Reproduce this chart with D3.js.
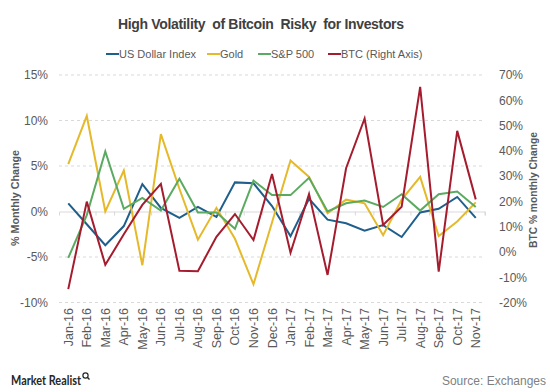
<!DOCTYPE html>
<html>
<head>
<meta charset="utf-8">
<script src="https://cdn.jsdelivr.net/npm/d3@7"></script>
<style>
  body { margin: 0; background: #fff; }
  svg { display: block; font-family: "Liberation Sans", Arial, sans-serif; }
</style>
</head>
<body>
<svg id="chart" width="550" height="392"></svg>
<script>
const months = ["Jan-16","Feb-16","Mar-16","Apr-16","May-16","Jun-16","Jul-16","Aug-16","Sep-16","Oct-16","Nov-16","Dec-16",
                "Jan-17","Feb-17","Mar-17","Apr-17","May-17","Jun-17","Jul-17","Aug-17","Sep-17","Oct-17","Nov-17"];
const usdIndex = [0.9, -1.4, -3.7, -1.6, 3.0, 0.4, -0.7, 0.5, -0.6, 3.2, 3.1, 0.6, -2.7, 1.4, -0.9, -1.3, -2.1, -1.5, -2.8, -0.1, 0.3, 1.6, -0.7];
const gold     = [5.2, 10.5, 0.0, 4.5, -5.9, 8.5, 2.5, -3.1, 0.4, -3.0, -8.0, -1.2, 5.6, 3.8, -0.2, 1.3, 0.9, -2.6, 1.3, 3.8, -2.7, -1.1, 1.0];
const sp500    = [-5.1, -0.4, 6.6, 0.3, 1.5, 0.1, 3.6, -0.1, -0.1, -1.9, 3.4, 1.8, 1.8, 3.7, 0.0, 0.9, 1.2, 0.5, 1.9, 0.1, 1.9, 2.2, 0.5];
const btc      = [-14.7, 19.9, -5.1, 7.0, 18.6, 26.9, -7.4, -7.6, 6.0, 15.0, 4.7, 30.8, -0.3, 22.9, -9.1, 33.1, 52.8, 10.7, 17.9, 65.3, -7.8, 47.9, 20.8];
const leftTicks  = [-10, -5, 0, 5, 10, 15];
const rightTicks = [-20, -10, 0, 10, 20, 30, 40, 50, 60, 70];

const series = [
  { name: "US Dollar Index", values: usdIndex, color: "#1f5f8b", axis: "left" },
  { name: "Gold", values: gold, color: "#e5b92a", axis: "left" },
  { name: "S&P 500", values: sp500, color: "#5aab61", axis: "left" },
  { name: "BTC (Right Axis)", values: btc, color: "#a51c2e", axis: "right" }
];

const svg = d3.select("#chart");
const plot = { left: 59, right: 485, top: 75, bottom: 302.5 };

const x = d3.scaleBand().domain(months).range([plot.left, plot.right]);
const yL = d3.scaleLinear().domain([-10, 15]).range([plot.bottom, plot.top]);
const yR = d3.scaleLinear().domain([-20, 70]).range([plot.bottom, plot.top]);

// gridlines
svg.append("g").selectAll("line").data(leftTicks.filter(d => d !== 0)).join("line")
  .attr("x1", plot.left).attr("x2", plot.right)
  .attr("y1", d => yL(d)).attr("y2", d => yL(d))
  .attr("stroke", "#d9d9d9").attr("stroke-width", 1).attr("stroke-dasharray", "3,3");

// zero axis line with ticks
const xAxis = d3.axisBottom(x).tickSize(4).tickFormat("");
const gx = svg.append("g").attr("transform", `translate(0,${yL(0)})`).call(xAxis);
gx.select(".domain").attr("stroke", "#d9d9d9");
gx.selectAll(".tick line").attr("stroke", "#d9d9d9").attr("transform", `translate(${x.bandwidth()/2},0)`);

// left axis labels
const gl = svg.append("g").attr("transform", `translate(${plot.left - 8},0)`)
  .call(d3.axisLeft(yL).tickValues(leftTicks).tickSize(0).tickFormat(d => d + "%"));
gl.select(".domain").remove();
gl.selectAll("text").attr("fill", "#595959").attr("font-size", 12).attr("font-family", "Liberation Sans, Arial, sans-serif");

// right axis labels
const gr = svg.append("g").attr("transform", `translate(${plot.right + 11},0)`)
  .call(d3.axisRight(yR).tickValues(rightTicks).tickSize(0).tickFormat(d => d + "%"));
gr.select(".domain").remove();
gr.selectAll("text").attr("fill", "#595959").attr("font-size", 12).attr("font-family", "Liberation Sans, Arial, sans-serif");

// x labels (rotated)
svg.append("g").selectAll("text").data(months).join("text")
  .attr("transform", d => `translate(${x(d) + x.bandwidth()/2 + 4.5},${plot.bottom + 5.5}) rotate(-90)`)
  .attr("text-anchor", "end")
  .attr("fill", "#595959").attr("font-size", 12.5)
  .text(d => d);

// axis titles
svg.append("text")
  .attr("transform", `translate(19,198) rotate(-90)`)
  .attr("text-anchor", "middle").attr("fill", "#595959").attr("font-size", 11).attr("font-weight", "bold")
  .attr("textLength", 96).attr("lengthAdjust", "spacingAndGlyphs")
  .text("% Monthly Change");
svg.append("text")
  .attr("transform", `translate(537,190) rotate(-90)`)
  .attr("text-anchor", "middle").attr("fill", "#595959").attr("font-size", 11).attr("font-weight", "bold")
  .attr("textLength", 116).attr("lengthAdjust", "spacingAndGlyphs")
  .text("BTC % monthly Change");

// lines
series.forEach(s => {
  const yS = s.axis === "left" ? yL : yR;
  const line = d3.line().x((d, i) => x(months[i]) + x.bandwidth()/2).y(d => yS(d));
  svg.append("path").datum(s.values)
    .attr("fill", "none").attr("stroke", s.color).attr("stroke-width", 2)
    .attr("stroke-linejoin", "miter")
    .attr("d", line);
});

// title
svg.append("text").attr("x", 118).attr("y", 29)
  .attr("fill", "#404040").attr("font-size", 14).attr("font-weight", "bold")
  .attr("textLength", 286).attr("lengthAdjust", "spacing")
  .style("white-space", "pre")
  .text("High Volatility  of Bitcoin  Risky  for Investors");

// legend
const legendX = [106, 207, 258, 328];
const lg = svg.append("g");
series.forEach((s, i) => {
  const g = lg.append("g").attr("transform", `translate(${legendX[i]},54)`);
  g.append("line").attr("x1", 0).attr("x2", 13).attr("y1", 0).attr("y2", 0)
    .attr("stroke", s.color).attr("stroke-width", 2);
  g.append("text").attr("x", 13).attr("y", 4).attr("fill", "#595959").attr("font-size", 11).text(s.name);
});

// footer
svg.append("text").attr("x", 11).attr("y", 385).attr("fill", "#262626").attr("font-size", 13)
  .attr("font-family", "Lato, sans-serif").attr("font-weight", "bold")
  .attr("textLength", 70).attr("lengthAdjust", "spacingAndGlyphs").text("Market Realist");
svg.append("circle").attr("cx", 85.5).attr("cy", 375.5).attr("r", 2.6).attr("fill", "none").attr("stroke", "#262626").attr("stroke-width", 1.2);
svg.append("line").attr("x1", 87.3).attr("y1", 377.3).attr("x2", 89.5).attr("y2", 379.5).attr("stroke", "#262626").attr("stroke-width", 1.4);
svg.append("text").attr("x", 546).attr("y", 385).attr("text-anchor", "end").attr("fill", "#7f7f7f").attr("font-size", 12)
  .text("Source: Exchanges");
</script>
</body>
</html>
